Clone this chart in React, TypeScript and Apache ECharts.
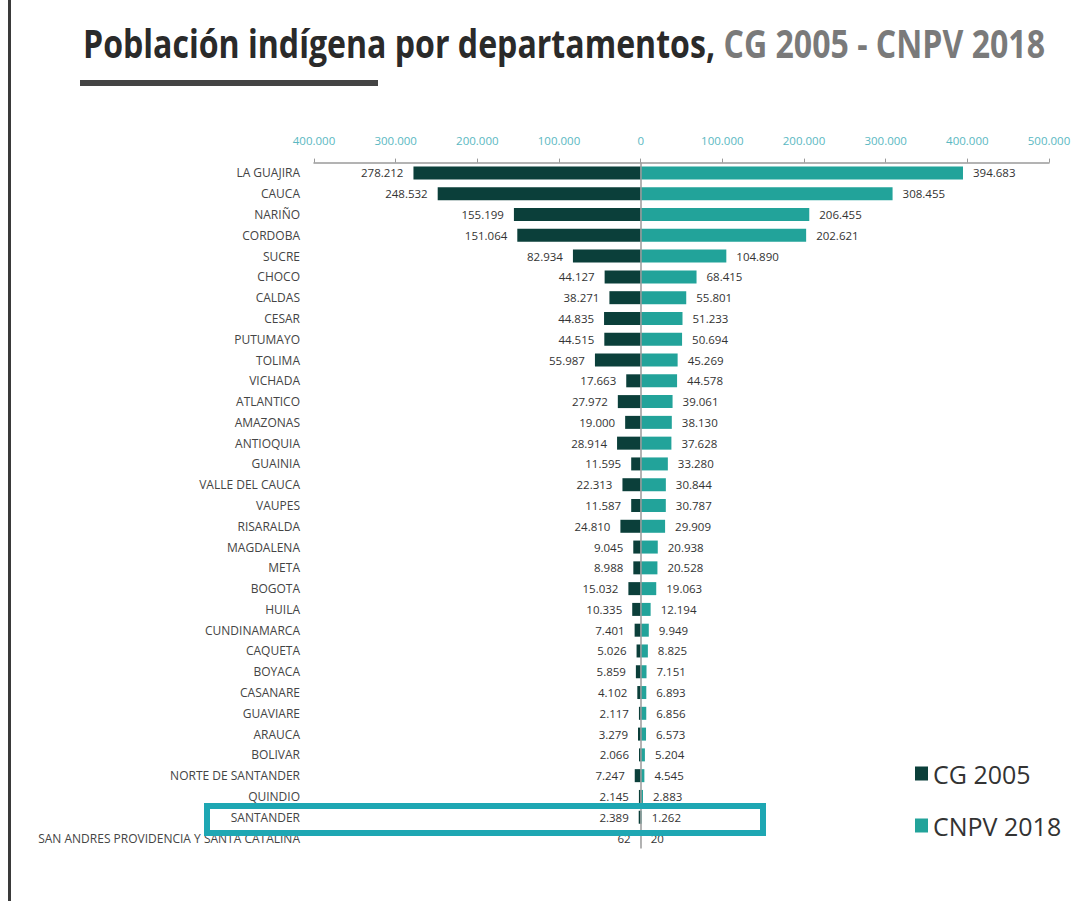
import React, { useEffect, useRef } from "react";
import * as echarts from "echarts";

const categories = [
  "LA GUAJIRA", "CAUCA", "NARIÑO", "CORDOBA", "SUCRE", "CHOCO", "CALDAS", "CESAR",
  "PUTUMAYO", "TOLIMA", "VICHADA", "ATLANTICO", "AMAZONAS", "ANTIOQUIA", "GUAINIA",
  "VALLE DEL CAUCA", "VAUPES", "RISARALDA", "MAGDALENA", "META", "BOGOTA", "HUILA",
  "CUNDINAMARCA", "CAQUETA", "BOYACA", "CASANARE", "GUAVIARE", "ARAUCA", "BOLIVAR",
  "NORTE DE SANTANDER", "QUINDIO", "SANTANDER", "SAN ANDRES PROVIDENCIA Y SANTA CATALINA",
];

const cg2005 = [
  278212, 248532, 155199, 151064, 82934, 44127, 38271, 44835, 44515, 55987, 17663,
  27972, 19000, 28914, 11595, 22313, 11587, 24810, 9045, 8988, 15032, 10335, 7401,
  5026, 5859, 4102, 2117, 3279, 2066, 7247, 2145, 2389, 62,
];

const cnpv2018 = [
  394683, 308455, 206455, 202621, 104890, 68415, 55801, 51233, 50694, 45269, 44578,
  39061, 38130, 37628, 33280, 30844, 30787, 29909, 20938, 20528, 19063, 12194, 9949,
  8825, 7151, 6893, 6856, 6573, 5204, 4545, 2883, 1262, 20,
];

const seriesNames = ["CG 2005", "CNPV 2018"];
const titleMain = "Población indígena por departamentos, ";
const titleSub = "CG 2005 - CNPV 2018";

const axisMin = -400000;
const axisMax = 500000;
const axisInterval = 100000;

const fmt = (v: number) =>
  String(Math.round(Math.abs(v))).replace(/\B(?=(\d{3})+(?!\d))/g, ".");

export default function App() {
  const ref = useRef<HTMLDivElement>(null);

  useEffect(() => {
    if (!ref.current) return;
    const chart = echarts.init(ref.current, null, { renderer: "svg" });

    const titleFontSize = 40;
    const titleFont = '"Open Sans", sans-serif';
    let titleScale = 0.8;
    try {
      const ctx = document.createElement("canvas").getContext("2d");
      if (ctx) {
        ctx.font = `bold ${titleFontSize}px ${titleFont}`;
        const w = ctx.measureText(titleMain + titleSub).width;
        if (w > 0) titleScale = 962 / w;
      }
    } catch (e) {}

    const labelFont = '"Open Sans", sans-serif';

    chart.setOption({
      animation: false,
      backgroundColor: "#ffffff",
      grid: { left: 314, right: 34, top: 162.6, bottom: 52.6, containLabel: false },
      legend: {
        orient: "vertical",
        left: 910,
        top: 756,
        itemWidth: 13,
        itemHeight: 14,
        itemGap: 27,
        icon: "rect",
        data: seriesNames,
        textStyle: { fontSize: 25, color: "#333", fontFamily: labelFont },
      },
      xAxis: {
        type: "value",
        position: "top",
        min: axisMin,
        max: axisMax,
        interval: axisInterval,
        splitLine: { show: false },
        axisLine: { show: true, lineStyle: { color: "#9a9a9a", width: 1.5 } },
        axisTick: { show: true, length: 4, lineStyle: { color: "#9a9a9a" } },
        axisLabel: {
          color: "#5ab8c2",
          fontSize: 11.5,
          fontFamily: labelFont,
          margin: 16,
          formatter: (v: number) => fmt(v),
        },
      },
      yAxis: {
        type: "category",
        inverse: true,
        data: categories,
        axisLine: { show: false, onZero: false },
        axisTick: { show: false },
        splitLine: { show: false },
        axisLabel: {
          color: "#444",
          fontSize: 12,
          fontFamily: labelFont,
          margin: 14,
        },
      },
      series: [
        {
          name: seriesNames[0],
          type: "bar",
          stack: "total",
          barWidth: 13,
          itemStyle: { color: "#0b3f3a" },
          data: cg2005.map((v) => -v),
          label: {
            show: true,
            position: "left",
            distance: 10,
            color: "#333",
            fontSize: 11.5,
            fontFamily: labelFont,
            formatter: (p: any) => fmt(p.value),
          },
          markLine: {
            silent: true,
            symbol: "none",
            label: { show: false },
            lineStyle: { color: "#9a9a9a", type: "solid", width: 1.5 },
            data: [{ xAxis: 0 }],
          },
        },
        {
          name: seriesNames[1],
          type: "bar",
          stack: "total",
          barWidth: 13,
          itemStyle: { color: "#22a39a" },
          data: cnpv2018,
          label: {
            show: true,
            position: "right",
            distance: 10,
            color: "#333",
            fontSize: 11.5,
            fontFamily: labelFont,
            formatter: (p: any) => fmt(p.value),
          },
        },
      ],
      graphic: [
        {
          type: "rect",
          left: 8,
          top: 0,
          shape: { width: 3, height: 901 },
          style: { fill: "#3a3a3a" },
          silent: true,
        },
        {
          type: "text",
          x: 83,
          y: 43,
          scaleX: titleScale,
          style: {
            text: `{a|${titleMain}}{b|${titleSub}}`,
            verticalAlign: "middle",
            rich: {
              a: { fontSize: titleFontSize, fontWeight: "bold", fill: "#2a2a2a", fontFamily: titleFont },
              b: { fontSize: titleFontSize, fontWeight: "bold", fill: "#7a7a7a", fontFamily: titleFont },
            },
          },
          silent: true,
        },
        {
          type: "rect",
          shape: { x: 80, y: 80, width: 298, height: 6 },
          style: { fill: "#444" },
          silent: true,
        },
        {
          type: "rect",
          shape: { x: 207, y: 806, width: 556, height: 27 },
          style: { fill: "none", stroke: "#1ea7b3", lineWidth: 6 },
          silent: true,
          z: 100,
        },
      ],
    });

    return () => chart.dispose();
  }, []);

  return (
    <div
      ref={ref}
      style={{ position: "absolute", left: 0, top: 0, width: 1083, height: 901 }}
    />
  );
}
